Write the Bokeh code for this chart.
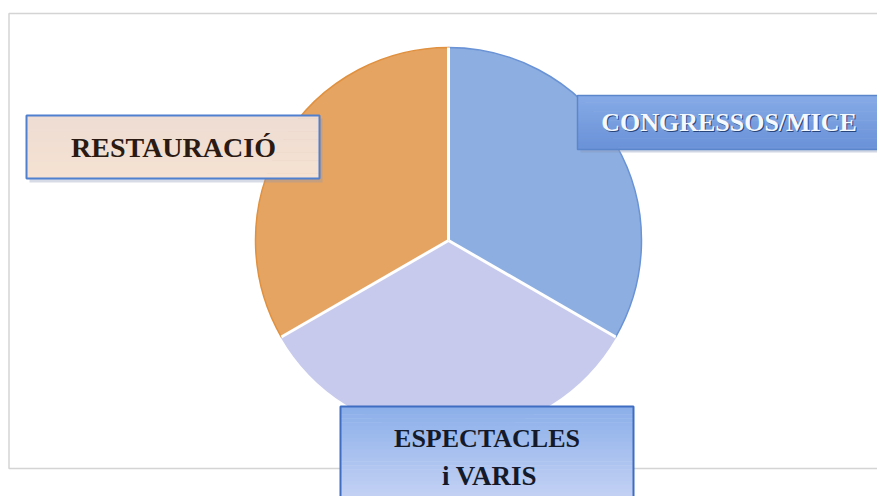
import math
from bokeh.plotting import figure
from bokeh.models import Range1d
from bokeh.embed import file_html
from bokeh.resources import INLINE
from bokeh.core.properties import value

# ---- data ----
categories = ["CONGRESSOS/MICE", "ESPECTACLES i VARIS", "RESTAURACIÓ"]
shares = [1, 1, 1]
slice_colors = ["#8DAEE0", "#C7CAEC", "#E6A462"]
edge_colors = ["#6A93D6", "#C7CAEC", "#E0913F"]

W, H = 877, 496
p = figure(width=W, height=H, output_backend="svg", toolbar_location=None,
           x_range=Range1d(0, W), y_range=Range1d(0, H), min_border=0)
p.axis.visible = False
p.grid.visible = False
p.outline_line_color = None
p.background_fill_color = "white"

def Y(py):
    return 496 - py

def hex2rgb(h):
    return tuple(int(h[i:i + 2], 16) for i in (1, 3, 5))

def gradient_box(l, r, t, b, c_top, c_bot, n=24):
    a, z = hex2rgb(c_top), hex2rgb(c_bot)
    lefts, rights, tops, bots, cols = [], [], [], [], []
    for k in range(n):
        f = k / (n - 1)
        col = "#%02x%02x%02x" % tuple(int(round(a[j] + (z[j] - a[j]) * f)) for j in range(3))
        y0 = t + (b - t) * k / n
        y1 = t + (b - t) * (k + 1) / n
        lefts.append(l); rights.append(r)
        tops.append(Y(y0)); bots.append(Y(y1) - 0.5)
        cols.append(col)
    p.quad(left=lefts, right=rights, top=tops, bottom=bots, fill_color=cols, line_color=None)

# faint frame
p.quad(left=[8.5], right=[900], top=[Y(13)], bottom=[Y(468)], fill_color=None,
       line_color="#D4D4D4", line_width=1.5)

# pie
cx, cy, r = 448, Y(240), 193
total = sum(shares)
starts, ends = [], []
acc = 0.0
for s in shares:
    a0 = math.pi / 2 - 2 * math.pi * acc / total
    acc += s
    a1 = math.pi / 2 - 2 * math.pi * acc / total
    starts.append(a0)
    ends.append(a1)

for i in range(len(shares)):
    p.wedge(x=cx, y=cy, radius=r, start_angle=starts[i], end_angle=ends[i],
            direction="clock", fill_color=slice_colors[i], line_color=edge_colors[i],
            line_width=1.5)
# white separators
for a in starts:
    p.segment(x0=cx, y0=cy, x1=cx + r * math.cos(a), y1=cy + r * math.sin(a),
              line_color="white", line_width=3)

font = value("Liberation Serif")

# RESTAURACIÓ
p.quad(left=[29], right=[322], top=[Y(118)], bottom=[Y(182)], fill_color="#8A98B8",
       line_color=None, fill_alpha=0.35)
gradient_box(26, 319, 115, 178, "#EEDCD3", "#F5E2D2")
p.quad(left=[26], right=[319], top=[Y(115)], bottom=[Y(178)], fill_color=None,
       line_color="#4F7FCF", line_width=2)
p.text(x=[173], y=[Y(147)], text=[categories[2]], text_align="center",
       text_baseline="middle", text_font=font, text_font_style="bold",
       text_font_size="28px", text_color="#2A1A12")

# CONGRESSOS/MICE
p.quad(left=[580], right=[900], top=[Y(98)], bottom=[Y(152)], fill_color="#8A98B8",
       line_color=None, fill_alpha=0.4)
gradient_box(577, 900, 95, 149, "#86AAE6", "#6A92D8")
p.quad(left=[577], right=[900], top=[Y(95)], bottom=[Y(149)], fill_color=None,
       line_color="#5C86CC", line_width=1.5)
p.text(x=[729.5], y=[Y(123)], text=[categories[0]], text_align="center",
       text_baseline="middle", text_font=font, text_font_style="bold",
       text_font_size="26px", text_color="#27457A")
p.text(x=[728.5], y=[Y(122)], text=[categories[0]], text_align="center",
       text_baseline="middle", text_font=font, text_font_style="bold",
       text_font_size="26px", text_color="#F4F8FF")

# ESPECTACLES i VARIS
gradient_box(340, 633, 406, 500, "#8CAFEA", "#C4D2F4")
p.quad(left=[340], right=[633], top=[Y(406)], bottom=[Y(520)], fill_color=None,
       line_color="#3F6DC2", line_width=2)
lbl = categories[1].split(" ", 1)
p.text(x=[486.5], y=[Y(438)], text=[lbl[0]], text_align="center",
       text_baseline="middle", text_font=font, text_font_style="bold",
       text_font_size="26px", text_color="#151A2A")
p.text(x=[489], y=[Y(475)], text=[lbl[1]], text_align="center",
       text_baseline="middle", text_font=font, text_font_style="bold",
       text_font_size="27px", text_color="#151A2A")

open("out.html", "w").write(file_html(p, INLINE))
